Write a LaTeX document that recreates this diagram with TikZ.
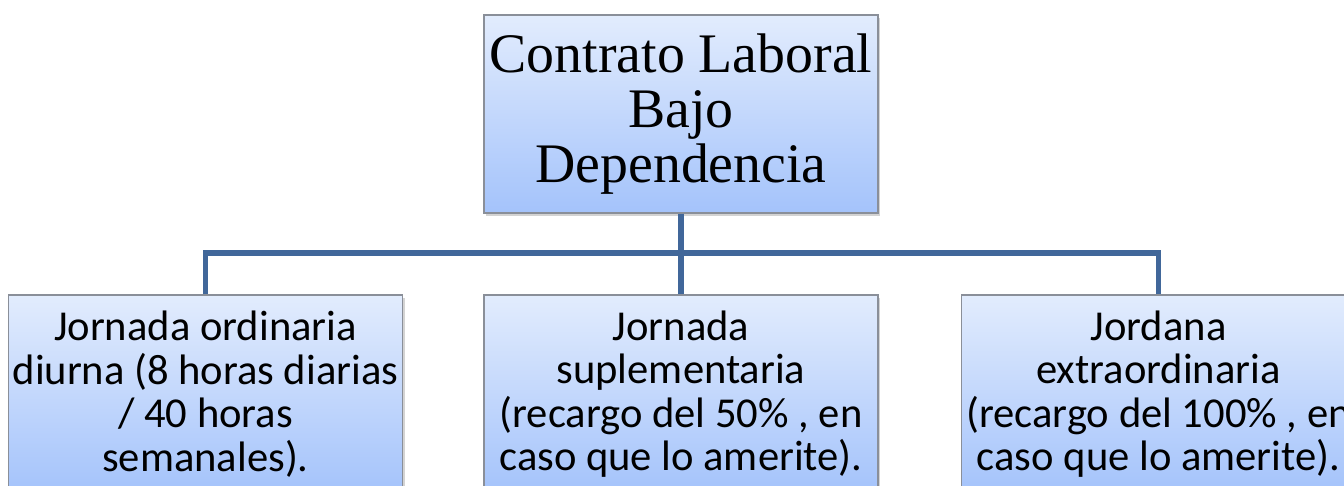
\documentclass[tikz,border=0pt]{standalone}
\usepackage{fontspec}
\setmainfont{Carlito}
\newfontfamily\titlefont{Liberation Serif}
\usetikzlibrary{shadows}

\definecolor{boxtop}{HTML}{E2ECFD}
\definecolor{boxbot}{HTML}{A4C3FB}
\definecolor{boxline}{HTML}{8A8F99}
\definecolor{linkblue}{HTML}{41679A}

\tikzset{
  box/.style={draw=boxline, line width=.6pt, top color=boxtop, bottom color=boxbot,
    minimum width=197pt, minimum height=99pt, align=center, inner sep=1pt,
    drop shadow={opacity=.35, shadow xshift=1pt, shadow yshift=-1.5pt}},
  topbox/.style={box, font=\titlefont\fontsize{27.9}{27.5}\selectfont},
  subbox/.style={box, font=\fontsize{21.3}{21.75}\selectfont},
  link/.style={draw=linkblue, line width=2.6pt}
}

\begin{document}
\begin{tikzpicture}[x=.5pt, y=-.5pt]
  \useasboundingbox (0,0) rectangle (1344,486);
  \clip (0,0) rectangle (1344,486);

  \coordinate (JL) at (205.5,253);
  \coordinate (JR) at (1158.5,253);

  \node[topbox] (contrato) at (681,114) {Contrato Laboral\\Bajo\\Dependencia};
  \node[subbox] (ordinaria) at (205.5,394)
    {Jornada ordinaria\\diurna (8 horas diarias\\/ 40 horas\\semanales).};
  \node[subbox] (suplementaria) at (681,394)
    {Jornada\\suplementaria\\(recargo del 50\% , en\\caso que lo amerite).};
  \node[subbox] (extraordinaria) at (1158.5,394)
    {Jordana\\extraordinaria\\(recargo del 100\% , en\\caso que lo amerite).};

  \draw[link] (contrato.south) -- (suplementaria.north);
  \draw[link] (ordinaria.north) |- (JL) -- (JR) -| (extraordinaria.north);
\end{tikzpicture}
\end{document}
